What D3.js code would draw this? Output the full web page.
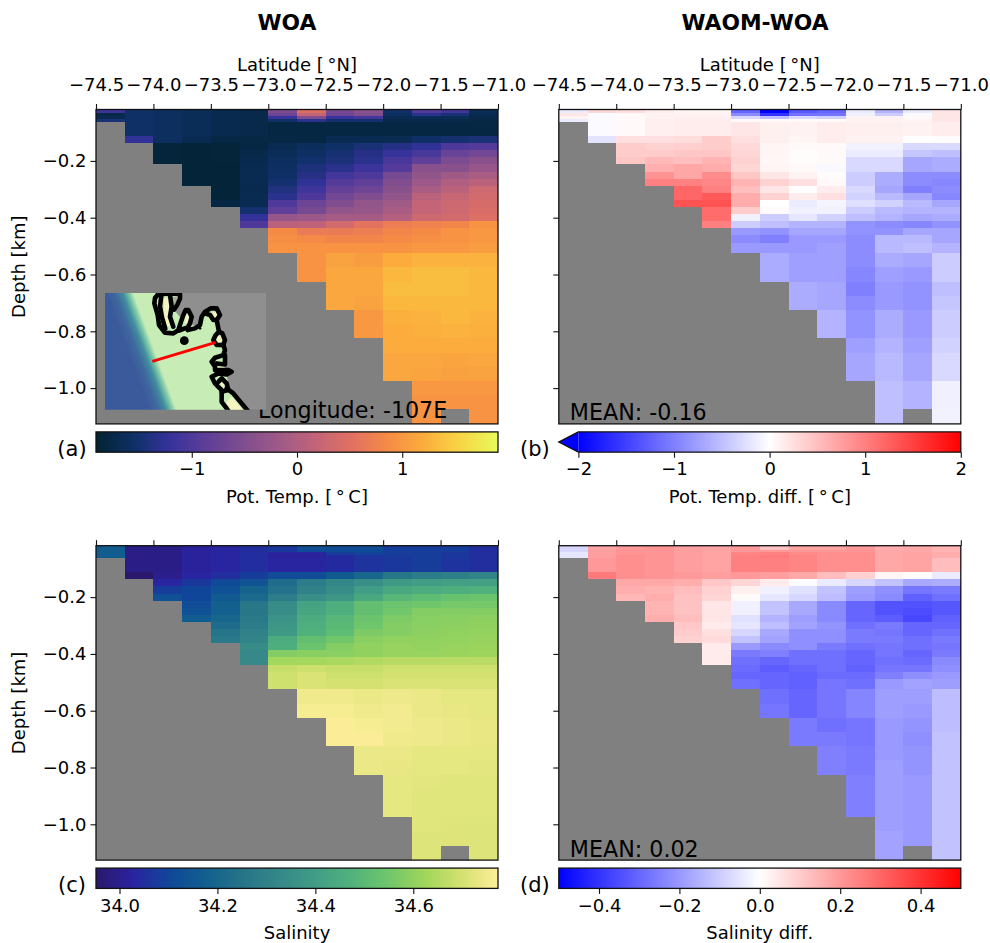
<!DOCTYPE html>
<html><head><meta charset="utf-8">
<script src="https://cdnjs.cloudflare.com/ajax/libs/d3/7.8.5/d3.min.js"></script>
<style>html,body{margin:0;padding:0;background:#fff}svg{display:block}text{font-family:"DejaVu Sans",sans-serif;fill:#000}</style>
</head><body><div id="chart"></div>
<script>
// ---- grid
const latEdges=[-74.5,-74.25,-74,-73.75,-73.5,-73.25,-73,-72.75,-72.5,-72.25,-72,-71.75,-71.5,-71.25,-71];
const depthEdges=[-.019,-.0325,-.0425,-.0525,-.0625,-.1125,-.1375,-.1625,-.1875,-.2125,-.2375,-.2625,-.2875,-.3125,-.3375,-.3625,-.3875,-.4125,-.4375,-.4625,-.4875,-.525,-.575,-.625,-.675,-.725,-.775,-.825,-.875,-.925,-.975,-1.025,-1.075,-1.126];
// ---- values, one array per latitude column, from the surface to the sea bed
const tempWOA=[
[-1.15,-1.75,-1.7,-1.45],
[-1.55,-1.55,-1.55,-1.55,-1.55,-1.25],
[-1.6,-1.6,-1.6,-1.6,-1.6,-1.6,-1.85,-1.85,-1.85],
[-1.65,-1.65,-1.65,-1.65,-1.65,-1.7,-1.87,-1.87,-1.87,-1.87,-1.87,-1.87],
[-1.72,-1.72,-1.72,-1.72,-1.72,-1.78,-1.85,-1.85,-1.85,-1.87,-1.87,-1.87,-1.87,-1.87,-1.8],
[-1.75,-1.75,-1.75,-1.75,-1.75,-1.78,-1.8,-1.75,-1.72,-1.7,-1.7,-1.7,-1.72,-1.7,-1.7,-1.5,-1.22,-1.0],
[-.55,-.7,-1.2,-1.55,-1.8,-1.78,-1.7,-1.65,-1.6,-1.58,-1.55,-1.5,-1.4,-1.3,-1,-.85,-.25,.1,.85,.9,.95],
[.45,.2,-.5,-1.3,-1.8,-1.8,-1.62,-1.58,-1.52,-1.42,-1.35,-1.25,-1.12,-1,-.7,-.6,-.2,.15,.65,.85,.95,.95,.95],
[-.6,-.7,-1.2,-1.5,-1.8,-1.7,-1.55,-1.48,-1.42,-1.32,-1.1,-.95,-.8,-.65,-.5,-.3,-.1,.35,.65,.8,.95,1.1,1.15,1.15,1.15],
[-.4,-.5,-1.1,-1.5,-1.8,-1.7,-1.45,-1.35,-1.3,-1.15,-1,-.85,-.7,-.5,-.3,-.25,-.1,.55,.7,.8,.95,1.05,1.15,1.15,1.1,1,1],
[-1.55,-1.6,-1.7,-1.75,-1.8,-1.68,-1.35,-1.2,-1.05,-.95,-.6,-.5,-.4,-.3,-.15,-.05,.05,.7,.8,.85,.95,1.2,1.3,1.35,1.3,1.22,1.2,1.2,1.15,1.15],
[-.95,-1.3,-1.65,-1.75,-1.8,-1.55,-1.25,-1.05,-.85,-.4,-.3,-.2,-.05,.1,.2,.2,.3,.75,.85,.9,1,1.25,1.35,1.35,1.3,1.25,1.22,1.2,1.15,1.12,1,.95,.95],
[-1.1,-1.45,-1.65,-1.75,-1.8,-1.5,-1,-.75,-.55,-.4,-.15,0,.1,.25,.3,.3,.35,.8,.95,.95,1,1.25,1.35,1.35,1.3,1.3,1.25,1.2,1.12,1.08,1,.95],
[-1.65,-1.7,-1.75,-1.78,-1.8,-1.45,-.95,-.65,-.4,-.25,-.05,.1,.3,.35,.4,.42,.48,.95,1,1,1.05,1.25,1.3,1.3,1.3,1.25,1.22,1.2,1.15,1.1,1,.95,.95]];
const tempDiff=[
[-.15,.2,.1,-.15],
[.3,-.03,-.03,-.04,-.04,-.22],
[.25,.05,.05,.05,.05,.25,.4,.4,.45],
[.15,.1,.1,.12,.12,.25,.35,.4,.55,.63,.85,1],
[.08,.1,.12,.15,.15,.27,.38,.45,.5,.7,.7,1,1.2,1.2,1.35],
[.08,.1,.12,.15,.15,.4,.4,.45,.6,.65,.9,.95,1,1.3,1.35,1.15,1.15,1],
[-1.2,-.9,-.3,.05,.2,.25,.3,.32,.35,.32,.45,.6,.5,.65,.65,.4,-.1,-.4,-.8,-.9,-.8],
[-2,-1.6,-.5,.05,.12,.12,.08,.08,.06,.08,.2,.35,.2,.35,0,.03,-.4,-.5,-.85,-1,-.8,-.66,-.66],
[-1.3,-1.1,-.3,.05,.1,.08,.04,.02,.02,.05,.1,.25,.01,.15,-.15,-.12,-.2,-.6,-.7,-.8,-.8,-.75,-.75,-.65,-.65],
[-1.2,-1.1,-.35,.05,.15,.15,.05,.04,.04,-.05,.02,.05,.15,.25,-.08,-.1,-.35,-.6,-.7,-.8,-.75,-.75,-.75,-.7,-.7,-.6,-.6],
[-.15,-.1,.1,.1,.12,.1,-.1,-.15,-.3,-.3,-.4,-.4,-.3,-.35,-.25,-.4,-.5,-.85,-.85,-.9,-.9,-.9,-.95,-1,-.9,-.85,-.85,-.75,-.7,-.7],
[-.6,-.4,.1,.1,.12,.1,-.1,-.15,-.3,-.3,-.65,-.65,-.7,-.55,-.35,-.55,-.6,-.9,-.85,-.55,-.55,-.65,-.75,-.8,-.8,-.65,-.65,-.6,-.55,-.55,-.5,-.5,-.5],
[-.15,-.05,.05,.08,.1,0,-.3,-.45,-.7,-.7,-.9,-.9,-1,-.7,-.55,-.6,-.7,-.95,-.7,-.55,-.5,-.7,-.8,-.85,-.85,-.8,-.8,-.75,-.7,-.7,-.6,-.6],
[.2,.2,.2,.2,.15,.02,-.3,-.5,-.65,-.65,-.9,-.95,-.9,-.95,-.7,-.6,-.65,-.85,-.7,-.7,-.6,-.4,-.4,-.5,-.45,-.4,-.4,-.35,-.3,-.3,-.12,-.12,-.1]];
const salWOA=[
[34.17,34.17,34.17,34.17],
[33.99,33.99,33.99,33.99,33.99,33.95],
[33.99,33.99,33.99,33.99,33.99,34,34.03,34.08,34.13],
[34.02,34.02,34.02,34.02,34.02,34.03,34.07,34.1,34.1,34.12,34.13,34.17],
[34.03,34.03,34.03,34.03,34.03,34.05,34.11,34.13,34.16,34.18,34.18,34.2,34.22,34.25,34.27],
[34.05,34.05,34.05,34.05,34.05,34.08,34.14,34.19,34.21,34.26,34.26,34.27,34.28,34.3,34.31,34.34,34.33,34.33],
[34.07,34.07,34.03,34.02,34.03,34.12,34.22,34.24,34.28,34.34,34.34,34.36,34.38,34.39,34.45,34.46,34.58,34.63,34.68,34.69,34.69],
[34.13,34.11,34.03,34.02,34.03,34.12,34.28,34.3,34.35,34.42,34.43,34.45,34.46,34.47,34.52,34.54,34.59,34.63,34.69,34.71,34.71,34.75,34.76],
[34.12,34.11,34.08,34.04,34.04,34.16,34.32,34.34,34.38,34.46,34.46,34.49,34.5,34.51,34.55,34.58,34.59,34.64,34.68,34.69,34.7,34.75,34.76,34.77,34.77],
[34.12,34.11,34.09,34.06,34.06,34.2,34.35,34.4,34.44,34.52,34.52,34.54,34.55,34.57,34.59,34.6,34.6,34.65,34.68,34.69,34.7,34.74,34.75,34.76,34.77,34.74,34.74],
[34.08,34.08,34.08,34.07,34.07,34.26,34.39,34.44,34.49,34.54,34.55,34.57,34.58,34.58,34.6,34.61,34.61,34.66,34.69,34.7,34.71,34.745,34.755,34.755,34.75,34.74,34.735,34.73,34.73,34.73],
[34.08,34.08,34.08,34.08,34.08,34.28,34.4,34.45,34.51,34.55,34.58,34.585,34.59,34.595,34.6,34.605,34.61,34.66,34.69,34.7,34.71,34.74,34.74,34.745,34.745,34.73,34.73,34.725,34.72,34.72,34.72,34.715,34.715],
[34.08,34.08,34.07,34.07,34.06,34.29,34.41,34.46,34.53,34.56,34.58,34.59,34.595,34.6,34.605,34.61,34.615,34.66,34.69,34.7,34.71,34.73,34.735,34.74,34.74,34.73,34.73,34.72,34.72,34.72,34.717,34.717],
[34.05,34.05,34.05,34.05,34.05,34.31,34.41,34.47,34.54,34.56,34.58,34.595,34.6,34.605,34.61,34.615,34.62,34.66,34.69,34.7,34.71,34.73,34.73,34.735,34.735,34.73,34.725,34.72,34.72,34.72,34.715,34.715,34.715]];
const salDiff=[
[-.08,-.08,-.05,-.05],
[.18,.19,.19,.19,.2,.26],
[.2,.21,.21,.22,.22,.22,.17,.16,.14],
[.21,.21,.21,.21,.21,.21,.17,.15,.16,.15,.15,.16],
[.19,.19,.19,.19,.19,.2,.16,.13,.12,.12,.12,.13,.11,.1,.09],
[.18,.18,.18,.18,.18,.19,.11,.09,.08,.05,.05,.05,.04,.06,.07,.04,.04,.04],
[.2,.2,.24,.25,.25,.2,.08,.03,.01,-.03,-.03,-.06,-.05,-.08,-.12,-.2,-.26,-.28,-.29,-.3,-.28],
[.12,.2,.25,.26,.25,.19,.04,-.03,-.05,-.12,-.12,-.15,-.13,-.17,-.18,-.23,-.25,-.3,-.32,-.3,-.3,-.28,-.27],
[.18,.2,.23,.24,.24,.17,-.005,-.06,-.08,-.17,-.17,-.19,-.18,-.22,-.22,-.22,-.28,-.28,-.3,-.31,-.31,-.3,-.3,-.26,-.26],
[.18,.2,.22,.22,.22,.13,-.04,-.12,-.13,-.23,-.23,-.23,-.21,-.22,-.22,-.26,-.28,-.28,-.28,-.29,-.27,-.27,-.27,-.28,-.26,-.25,-.25],
[.2,.21,.22,.22,.22,.09,-.08,-.19,-.2,-.3,-.3,-.3,-.28,-.26,-.26,-.28,-.3,-.3,-.31,-.29,-.28,-.24,-.24,-.27,-.27,-.26,-.26,-.25,-.25,-.25],
[.16,.17,.17,.17,.17,.02,-.12,-.22,-.23,-.34,-.34,-.32,-.26,-.27,-.26,-.27,-.27,-.28,-.27,-.25,-.2,-.19,-.19,-.2,-.2,-.2,-.19,-.19,-.19,-.19,-.19,-.18,-.18],
[.17,.17,.18,.18,.18,.005,-.17,-.27,-.31,-.34,-.35,-.36,-.3,-.3,-.28,-.28,-.3,-.29,-.27,-.22,-.18,-.19,-.2,-.21,-.22,-.21,-.21,-.2,-.2,-.2,-.2,-.2],
[.15,.15,.16,.16,.13,-.04,-.16,-.26,-.28,-.33,-.33,-.31,-.3,-.28,-.26,-.27,-.26,-.23,-.22,-.2,-.19,-.13,-.13,-.13,-.12,-.12,-.12,-.12,-.12,-.12,-.12,-.12,-.12]];
// ---- colour maps
const thermal=["rgb(3,35,51)","rgb(13,48,100)","rgb(53,50,155)","rgb(93,62,153)","rgb(126,77,143)","rgb(158,89,135)","rgb(193,100,121)","rgb(225,113,97)","rgb(246,139,69)","rgb(251,174,61)","rgb(247,215,70)","rgb(231,250,90)"];
const haline=["rgb(41,24,107)","rgb(42,35,160)","rgb(15,71,153)","rgb(18,95,142)","rgb(38,116,137)","rgb(53,136,136)","rgb(65,157,133)","rgb(81,178,124)","rgb(111,198,107)","rgb(160,214,91)","rgb(212,225,112)","rgb(253,238,153)"];
const bwr=["#0000ff","#ffffff","#ff0000"];
const latTicks=[-74.5,-74,-73.5,-73,-72.5,-72,-71.5,-71];
const depthTicks=[-.2,-.4,-.6,-.8,-1];
// ---- inset map (map units)
const mapSea=[[15,15],[240,15],[232,50],[222,65],[250,100],[255,70],[265,66],[275,86],[270,106],[285,115],[300,110],[305,86],[315,71],[333,61],[350,61],[360,81],[350,96],[357,131],[375,156],[370,171],[375,186],[370,201],[375,241],[395,251],[380,259],[385,286],[385,306],[400,316],[440,366],[15,366]];
const mapPockets=[
[[192,30],[207,30],[207,90],[212,112],[200,118],[192,95]],
[[258,82],[266,78],[268,100],[260,108],[254,102]],
[[340,72],[350,72],[352,84],[344,86]],
[[355,142],[363,146],[367,162],[352,163],[349,155]],
[[358,233],[372,233],[372,243],[354,243]],
[[362,280],[372,287],[375,298],[364,294]],
[[378,345],[395,325],[428,366],[390,366]]];
const mapInlet=[[219,26],[234,24],[230,42],[222,56],[218,48]];
const mapCoast=[
[[175,18],[165,30],[163,46],[173,81],[177,111],[195,134],[220,136],[235,126],[243,101],[250,81],[257,66],[265,66],[275,86],[270,106],[263,118],[235,128]],
[[175,18],[210,17],[240,17],[240,32],[232,50],[222,65]],
[[210,21],[215,56],[210,86],[220,116]],
[[184,24],[180,55],[186,88],[196,122]],
[[263,126],[285,121],[300,111],[305,86],[315,71],[333,61],[350,61],[360,81],[350,96],[340,96],[330,81],[315,76]],
[[350,96],[357,131],[347,141],[340,156],[350,171],[370,171],[375,156],[367,136],[357,131]],
[[370,171],[375,186],[370,201],[345,209],[335,221],[345,236],[345,246],[385,246],[395,251],[380,259],[355,256],[335,266],[345,286],[355,296],[365,306],[365,341],[380,361],[385,368]],
[[375,201],[375,229],[350,226]],
[[355,281],[365,271],[380,286],[385,306],[365,311]],
[[380,301],[400,316],[445,370]]];
const mapIslands=[[253,158,4.4],[300,121,1.4]];
const mapSection=[[157,220],[347,163]];

const W=990,H=943;
const svg=d3.select("#chart").append("svg").attr("width",W).attr("height",H);
const defs=svg.append("defs");
const GRAY="#808080",LINE="#111";

const cm=(stops,a,b)=>d3.scaleLinear().domain(d3.range(stops.length).map(i=>a+(b-a)*i/(stops.length-1))).range(stops).clamp(true);
const panels=[
 {key:"a",vals:tempWOA,left:96,top:109.5,cmap:cm(thermal,-1.91,1.91),dom:[-1.91,1.91],ticks:[-1,0,1],fmt:d3.format("d"),label:"Pot. Temp. [\u2009°\u2009C]",yl:true,xl:true,title:"WOA",titleX:287},
 {key:"b",vals:tempDiff,left:558.8,top:109.5,cmap:cm(bwr,-2,2),dom:[-2,2],ticks:[-2,-1,0,1,2],fmt:d3.format("d"),label:"Pot. Temp. diff. [\u2009°\u2009C]",yl:false,xl:true,title:"WAOM-WOA",titleX:755,mean:"MEAN: -0.16",extend:true},
 {key:"c",vals:salWOA,left:96,top:545.7,cmap:cm(haline,33.952,34.773),dom:[33.952,34.773],ticks:[34,34.2,34.4,34.6],fmt:d3.format(".1f"),label:"Salinity",yl:true,xl:false},
 {key:"d",vals:salDiff,left:558.8,top:545.7,cmap:cm(bwr,-.5,.5),dom:[-.5,.5],ticks:[-.4,-.2,0,.2,.4],fmt:d3.format(".1f"),label:"Salinity diff.",yl:false,xl:false,mean:"MEAN: 0.02"}
];
const PW=402,PH=314.4,FS=18;
const axisStyle=(g)=>{g.select(".domain").remove();g.selectAll(".tick line").attr("stroke",LINE).attr("stroke-width",1.1);g.selectAll("text").attr("font-size",FS).attr("fill","#000").style("font-family",'"DejaVu Sans"');};

panels.forEach(p=>{
  const g=svg.append("g").attr("class","panel-"+p.key);
  const x=d3.scaleLinear().domain([-74.5,-71]).range([p.left,p.left+PW]);
  const y=d3.scaleLinear().domain([-.019,-1.126]).range([p.top,p.top+PH]);
  g.append("rect").attr("x",p.left).attr("y",p.top).attr("width",PW).attr("height",PH).attr("fill",GRAY);
  const cells=p.vals.flatMap((col,i)=>col.map((v,j)=>({i,j,v})));
  g.selectAll("rect.cell").data(cells).join("rect").attr("class","cell")
    .attr("x",d=>x(latEdges[d.i])).attr("width",d=>x(latEdges[d.i+1])-x(latEdges[d.i]))
    .attr("y",d=>y(depthEdges[d.j])).attr("height",d=>y(depthEdges[d.j+1])-y(depthEdges[d.j]))
    .attr("fill",d=>p.cmap(d.v)).attr("shape-rendering","crispEdges");
  if(p.key==="a"){
    g.append("text").attr("x",x(-74.5)+162).attr("y",p.top+PH-6).attr("font-size",22.2).text("Longitude: -107E");
  }
  if(p.mean){
    g.append("text").attr("x",p.left+11).attr("y",p.top+PH-3.5).attr("font-size",22.2).text(p.mean);
  }
  g.append("rect").attr("x",p.left).attr("y",p.top).attr("width",PW).attr("height",PH).attr("fill","none").attr("stroke",LINE).attr("stroke-width",1.3);
  // axes
  const ax=g.append("g").attr("transform",`translate(0,${p.top})`).call(d3.axisTop(x).tickValues(latTicks).tickSize(5.5).tickPadding(12).tickFormat(p.xl?d3.format(".1f"):""));
  axisStyle(ax);
  ax.selectAll(".tick text").attr("dy","0.35em").attr("y",-25);
  const ay=g.append("g").attr("transform",`translate(${p.left},0)`).call(d3.axisLeft(y).tickValues(depthTicks).tickSize(5.5).tickPadding(4).tickFormat(p.yl?d3.format(".1f"):""));
  axisStyle(ay);
  if(p.xl) g.append("text").attr("x",p.left+PW/2).attr("y",p.top-39).attr("text-anchor","middle").attr("font-size",FS).text("Latitude [\u2009°N]");
  if(p.yl) g.append("text").attr("transform",`translate(25,${p.top+PH/2}) rotate(-90)`).attr("text-anchor","middle").attr("font-size",FS).text("Depth [km]");
  if(p.title) g.append("text").attr("x",p.titleX).attr("y",30).attr("text-anchor","middle").attr("font-size",21.8).attr("font-weight","bold").text(p.title);
  // colour bar
  const cTop=p.top+PH+8,cH=20.3;
  const barLeft=p.extend?578.4:p.left;
  const cx=d3.scaleLinear().domain(p.dom).range([barLeft,p.left+PW]);
  const gid="grad-"+p.key;
  const grad=defs.append("linearGradient").attr("id",gid);
  d3.range(0,1.0001,1/64).forEach(t=>{grad.append("stop").attr("offset",t).attr("stop-color",p.cmap(p.dom[0]+(p.dom[1]-p.dom[0])*t));});
  g.append("rect").attr("x",barLeft).attr("y",cTop).attr("width",p.left+PW-barLeft).attr("height",cH).attr("fill",`url(#${gid})`);
  if(p.extend){
    const tri=d3.line()([[barLeft,cTop],[p.left,cTop+cH/2],[barLeft,cTop+cH]]);
    g.append("path").attr("d",tri).attr("fill","#0000ff");
    g.append("path").attr("d",d3.line()([[barLeft,cTop],[p.left,cTop+cH/2],[barLeft,cTop+cH],[p.left+PW,cTop+cH],[p.left+PW,cTop]])+"Z").attr("fill","none").attr("stroke",LINE).attr("stroke-width",1.3);
  } else {
    g.append("rect").attr("x",barLeft).attr("y",cTop).attr("width",PW).attr("height",cH).attr("fill","none").attr("stroke",LINE).attr("stroke-width",1.3);
  }
  const ca=g.append("g").attr("transform",`translate(0,${cTop+cH})`).call(d3.axisBottom(cx).tickValues(p.ticks).tickSize(5.5).tickPadding(5).tickFormat(p.fmt));
  axisStyle(ca);
  g.append("text").attr("x",p.left+PW/2).attr("y",cTop+cH+51).attr("text-anchor","middle").attr("font-size",FS).text(p.label);
  g.append("text").attr("x",p.left-24).attr("y",cTop+cH+3.5).attr("text-anchor","middle").attr("font-size",21).text(`(${p.key})`);
});

// inset map
(function(){
  const mx=d3.scaleLinear().domain([15,498]).range([105,266]);
  const my=d3.scaleLinear().domain([15,365]).range([293,409.8]);
  const ln=d3.line().x(d=>mx(d[0])).y(d=>my(d[1]));
  const clip=defs.append("clipPath").attr("id","inset-clip");
  clip.append("rect").attr("x",mx(15)).attr("y",my(15)).attr("width",mx(498)-mx(15)).attr("height",my(365)-my(15));
  defs.append("filter").attr("id","soft").attr("x","-5%").attr("y","-5%").attr("width","110%").attr("height","110%").append("feGaussianBlur").attr("stdDeviation",0.5);
  const outer=svg.append("g").attr("clip-path","url(#inset-clip)");
  outer.append("rect").attr("x",mx(15)).attr("y",my(15)).attr("width",mx(498)-mx(15)).attr("height",my(365)-my(15)).attr("fill","#8f8f8f");
  const g=outer.append("g").attr("filter","url(#soft)");
  const sg=defs.append("linearGradient").attr("id","shelf").attr("gradientUnits","userSpaceOnUse")
    .attr("x1",mx(20)).attr("y1",my(15)).attr("x2",mx(90.4)).attr("y2",my(-11));
  [[0,"#3b5a9b"],[.35,"#3f6ba0"],[.6,"#3f8e9e"],[.85,"#82cba9"],[1,"#c8ecb6"]].forEach(s=>sg.append("stop").attr("offset",s[0]).attr("stop-color",s[1]));
  g.append("path").attr("d",ln(mapSea)+"Z").attr("fill","url(#shelf)");
  g.selectAll("path.pocket").data(mapPockets).join("path").attr("class","pocket").attr("d",d=>ln(d)+"Z").attr("fill","#f4f4c0");
  g.append("path").attr("d",ln(mapInlet)+"Z").attr("fill","#a6b09a");
  g.selectAll("path.coast").data(mapCoast).join("path").attr("class","coast").attr("d",d=>ln(d)).attr("fill","none").attr("stroke","#000").attr("stroke-width",4.6).attr("stroke-linejoin","round").attr("stroke-linecap","round");
  g.selectAll("circle.island").data(mapIslands).join("circle").attr("class","island").attr("cx",d=>mx(d[0])).attr("cy",d=>my(d[1])).attr("r",d=>d[2]).attr("fill","#000");
  outer.append("path").attr("d",ln(mapSection)).attr("fill","none").attr("stroke","#ff0000").attr("stroke-width",2.8);
})();
</script></body></html>
